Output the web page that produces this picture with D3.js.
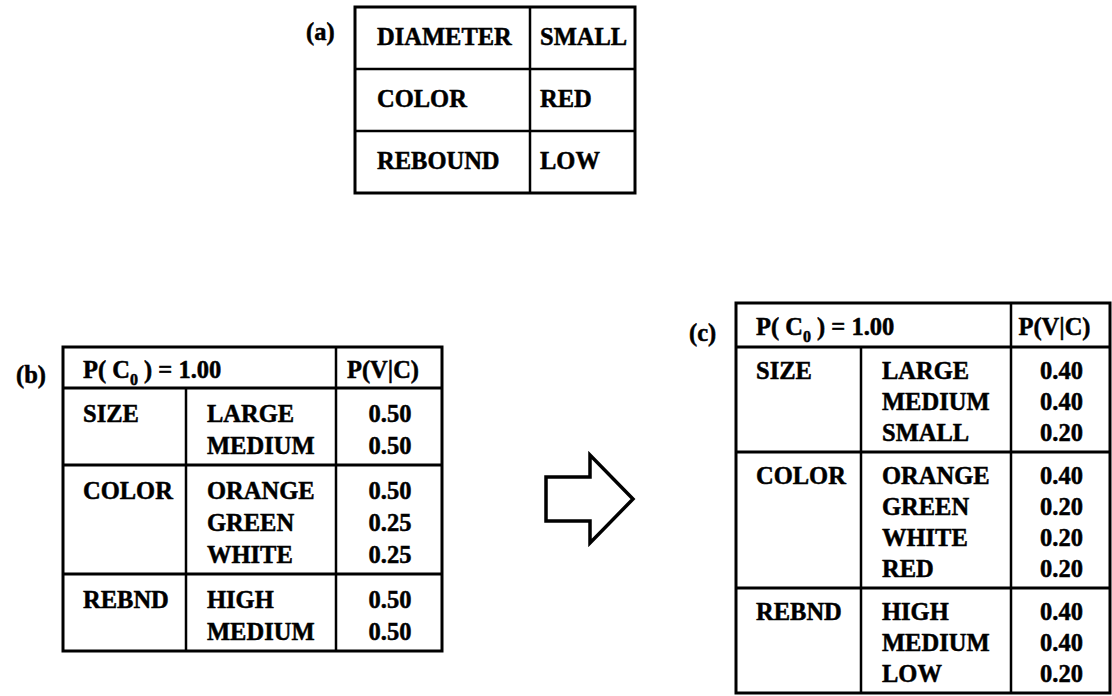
<!DOCTYPE html>
<html>
<head>
<meta charset="utf-8">
<script src="https://cdn.jsdelivr.net/npm/d3@7"></script>
<style>
  body { margin: 0; background: #fff; }
  text { font-family: "Liberation Serif", "Times New Roman", serif; font-weight: bold; fill: #000;
    stroke: #000; stroke-width: 0.5px; }
</style>
</head>
<body>
<div id="vis"></div>
<script>
// (a) the new observation
var observationFeatures = ["DIAMETER", "COLOR", "REBOUND"],
  observationValues = ["SMALL", "RED", "LOW"];

// attributes shared by both concept tables
var attributes = ["SIZE", "COLOR", "REBND"];

// (b) concept before the update
var valuesB = [["LARGE", "MEDIUM"], ["ORANGE", "GREEN", "WHITE"], ["HIGH", "MEDIUM"]],
  probsB = [[0.50, 0.50], [0.50, 0.25, 0.25], [0.50, 0.50]],
  priorB = 1.00;

// (c) concept after incorporating the observation
var valuesC = [["LARGE", "MEDIUM", "SMALL"], ["ORANGE", "GREEN", "WHITE", "RED"], ["HIGH", "MEDIUM", "LOW"]],
  probsC = [[0.40, 0.40, 0.20], [0.40, 0.20, 0.20, 0.20], [0.40, 0.40, 0.20]],
  priorC = 1.00;

var probHeader = "P(V|C)";

// layout of each panel (pixel positions)
var width = 1112, height = 696,
  fontSize = 24.5,
  layoutA = {cols: [355, 530, 635], top: 7, rowH: 62, base: 38, label: [306, 40]},
  layoutB = {cols: [63, 186, 336, 442], top: 347, headerH: 41, headerBase: 31,
    firstOff: 34, lineH: 32, pad: 11, label: [16, 383]},
  layoutC = {cols: [736, 861, 1011, 1110], top: 303, headerH: 44, headerBase: 32,
    firstOff: 32, lineH: 31, pad: 11, label: [689, 341]},
  fmt = d3.format(".2f");

var svg = d3.select("#vis").append("svg")
  .attr("width", width)
  .attr("height", height);

// helper to draw a straight line
function rule(g, x1, y1, x2, y2, w) {
  g.append("line")
    .attr("x1", x1).attr("y1", y1)
    .attr("x2", x2).attr("y2", y2)
    .style("stroke", "#000")
    .style("stroke-width", w);
}

// panel label like "(a)"
function panelLabel(txt, pos) {
  svg.append("text")
    .attr("x", pos[0]).attr("y", pos[1])
    .style("font-size", fontSize + "px")
    .text(txt);
}

// ---- table (a) ----
function drawObservation() {
  var L = layoutA,
    g = svg.append("g"),
    y = d3.scaleLinear()
      .domain([0, observationFeatures.length])
      .range([L.top, L.top + L.rowH * observationFeatures.length]);

  g.append("rect")
    .attr("x", L.cols[0]).attr("y", y(0))
    .attr("width", L.cols[2] - L.cols[0])
    .attr("height", y(observationFeatures.length) - y(0))
    .style("fill", "none").style("stroke", "#000").style("stroke-width", 3);
  rule(g, L.cols[1], y(0), L.cols[1], y(observationFeatures.length), 2.5);
  d3.range(1, observationFeatures.length).forEach(function(i) {
    rule(g, L.cols[0], y(i), L.cols[2], y(i), 2.5);
  });

  g.selectAll(".feat")
    .data(observationFeatures).enter()
    .append("text")
    .attr("x", L.cols[0] + 22)
    .attr("y", function(d, i) { return y(i) + L.base; })
    .style("font-size", fontSize + "px")
    .text(function(d) { return d; });

  g.selectAll(".val")
    .data(observationValues).enter()
    .append("text")
    .attr("x", L.cols[1] + 10)
    .attr("y", function(d, i) { return y(i) + L.base; })
    .style("font-size", fontSize + "px")
    .text(function(d) { return d; });

  panelLabel("(a)", L.label);
}

// ---- tables (b) and (c) ----
function drawConcept(values, probs, prior, L, label) {
  var g = svg.append("g"),
    x = L.cols,
    left = x[0], right = x[3];

  // block tops, one block per attribute
  var blockTop = [L.top + L.headerH];
  values.forEach(function(v, i) {
    blockTop.push(blockTop[i] + L.firstOff + (v.length - 1) * L.lineH + L.pad);
  });
  var bottom = blockTop[values.length];

  // position of a line inside its block
  var lineY = d3.scaleLinear().domain([0, 1]).range([L.firstOff, L.firstOff + L.lineH]);

  // frame and rules
  g.append("rect")
    .attr("x", left).attr("y", L.top)
    .attr("width", right - left).attr("height", bottom - L.top)
    .style("fill", "none").style("stroke", "#000").style("stroke-width", 3);
  rule(g, x[2], L.top, x[2], bottom, 2.5);
  rule(g, x[1], blockTop[0], x[1], bottom, 2.5);
  blockTop.slice(0, values.length).forEach(function(t) {
    rule(g, left, t, right, t, 3);
  });

  // header row
  var head = g.append("text")
    .attr("x", left + 20)
    .attr("y", L.top + L.headerBase)
    .style("font-size", fontSize + "px");
  head.append("tspan").text("P( C");
  head.append("tspan").attr("dy", 7).style("font-size", "16px").text("0");
  head.append("tspan").attr("dy", -7).text("\u00a0) = " + fmt(prior));

  g.append("text")
    .attr("x", (x[2] + x[3]) / 2 - 6)
    .attr("y", L.top + L.headerBase)
    .attr("text-anchor", "middle")
    .style("font-size", fontSize + "px")
    .text(probHeader);

  // attribute names
  g.selectAll(".attr")
    .data(attributes).enter()
    .append("text")
    .attr("x", left + 20)
    .attr("y", function(d, i) { return blockTop[i] + lineY(0); })
    .style("font-size", fontSize + "px")
    .text(function(d) { return d; });

  // values and probabilities
  values.forEach(function(v, b) {
    g.selectAll(".v" + b)
      .data(v).enter()
      .append("text")
      .attr("x", x[1] + 21)
      .attr("y", function(d, i) { return blockTop[b] + lineY(i); })
      .style("font-size", fontSize + "px")
      .text(function(d) { return d; });

    g.selectAll(".p" + b)
      .data(probs[b]).enter()
      .append("text")
      .attr("x", (x[2] + x[3]) / 2 + 1)
      .attr("y", function(d, i) { return blockTop[b] + lineY(i); })
      .attr("text-anchor", "middle")
      .style("font-size", fontSize + "px")
      .text(function(d) { return fmt(d); });
  });

  panelLabel(label, L.label);
}

// ---- block arrow from (b) to (c) ----
function drawArrow() {
  var cx = 590, cy = 499,
    shape = [[-44, -22], [0, -22], [0, -44], [43, 0], [0, 44], [0, 22], [-44, 22]];
  svg.append("path")
    .attr("d", d3.line()(shape.map(function(p) { return [cx + p[0], cy + p[1]]; })) + "Z")
    .style("fill", "none")
    .style("stroke", "#000")
    .style("stroke-width", 3.5)
    .style("stroke-linejoin", "miter");
}

drawObservation();
drawConcept(valuesB, probsB, priorB, layoutB, "(b)");
drawConcept(valuesC, probsC, priorC, layoutC, "(c)");
drawArrow();
</script>
</body>
</html>
